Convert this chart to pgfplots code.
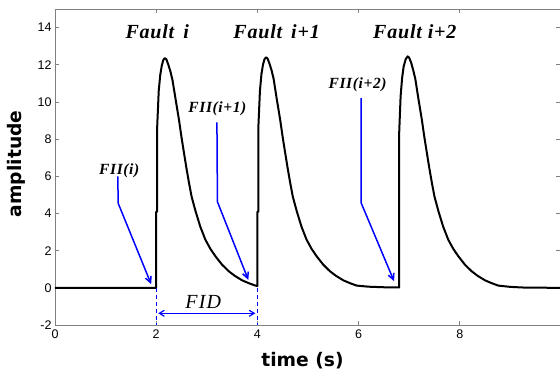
\documentclass[border=0pt]{standalone}
\usepackage{fontspec}
\setmainfont{Liberation Serif}
\setsansfont{Liberation Sans}
\newfontfamily\spacedserif{Liberation Serif}[LetterSpace=4]
\newfontfamily\widespaced{Liberation Serif}[LetterSpace=6]
\newfontfamily\labelfont{DejaVu Sans}
\usepackage{pgfplots}
\pgfplotsset{compat=1.18}
\usetikzlibrary{arrows.meta}
\definecolor{axgray}{RGB}{128,128,128}
\begin{document}
\begin{tikzpicture}
\begin{axis}[
  scale only axis,
  width=505pt, height=316pt,
  xmin=0, xmax=9.98, ymin=-2, ymax=15,
  xtick={0,2,4,6,8}, ytick={-2,0,2,4,6,8,10,12,14},
  tick align=inside,
  major tick length=4pt,
  axis line style={draw=axgray, line width=0.9pt},
  every tick/.style={draw=axgray, line width=0.7pt},
  /pgf/number format/assume math mode=true,
  ticklabel style={font=\sffamily\fontsize{12.5}{12.5}\selectfont, text=black},
  xticklabel style={yshift=-1pt},
  yticklabel style={xshift=0pt},
  xlabel={time (s)}, ylabel={amplitude},
  label style={font=\labelfont\bfseries\fontsize{18.7}{18.7}\selectfont},
  xlabel style={at={(axis description cs:0.49,-0.114)}, anchor=center},
  ylabel style={at={(axis description cs:-0.077,0.51)}, anchor=center},
  clip=false,
]
\coordinate (SW) at (rel axis cs:0,0);
\coordinate (NE) at (rel axis cs:1,1);
% signal
\addplot[black, line width=2pt, line join=round] coordinates {
(0,0)(2.0,0)(2.0,4.1)(2.02,4.1)(2.02,8.7)(2.05,10.6)(2.08,11.45)(2.11,11.95)(2.14,12.25)(2.17,12.36)(2.20,12.3)(2.24,12.0)(2.28,11.65)(2.32,11.2)(2.38,10.2)(2.45,9.04)(2.50,8.1)(2.55,7.24)(2.60,6.4)(2.65,5.62)(2.70,4.9)(2.78,4.1)(2.87,3.3)(2.97,2.6)(3.07,2.1)(3.17,1.7)(3.30,1.25)(3.43,0.9)(3.55,0.65)(3.70,0.4)(3.83,0.25)(3.96,0.12)(4.0,0.1)
(4.0,4.1)(4.02,4.1)(4.02,8.7)(4.05,10.6)(4.08,11.5)(4.11,12.0)(4.14,12.3)(4.17,12.4)(4.20,12.34)(4.24,12.05)(4.28,11.7)(4.32,11.25)(4.38,10.2)(4.45,9.04)(4.50,8.1)(4.55,7.24)(4.60,6.4)(4.65,5.62)(4.70,4.9)(4.78,4.1)(4.87,3.3)(4.97,2.6)(5.07,2.1)(5.17,1.7)(5.30,1.25)(5.43,0.9)(5.55,0.65)(5.70,0.4)(5.83,0.25)(5.96,0.12)(6.2,0.06)(6.5,0.03)(6.8,0.02)
(6.8,8.2)(6.83,10.3)(6.86,11.3)(6.89,11.9)(6.93,12.3)(6.97,12.45)(7.00,12.38)(7.04,12.1)(7.08,11.7)(7.12,11.25)(7.18,10.2)(7.25,9.04)(7.30,8.1)(7.35,7.24)(7.40,6.4)(7.45,5.62)(7.50,4.9)(7.58,4.1)(7.67,3.3)(7.77,2.6)(7.87,2.1)(7.97,1.7)(8.10,1.25)(8.23,0.9)(8.35,0.65)(8.50,0.4)(8.63,0.25)(8.76,0.12)(9.0,0.05)(9.3,0.01)(9.98,0)
};
% pointer arrows
\addplot[blue, line width=1.5pt, -{Straight Barb[length=6pt,width=6pt]}] coordinates {(1.24,6.0)(1.25,4.54)(1.90,0.2)};
\addplot[blue, line width=1.5pt, -{Straight Barb[length=6pt,width=6pt]}] coordinates {(3.20,8.9)(3.21,4.63)(3.82,0.43)};
\addplot[blue, line width=1.5pt, -{Straight Barb[length=6pt,width=6pt]}] coordinates {(6.05,10.2)(6.05,4.57)(6.70,0.36)};
% FID markers
\addplot[blue, line width=1pt, dash pattern=on 4pt off 3pt] coordinates {(2,0)(2,-2)};
\addplot[blue, line width=1pt, dash pattern=on 4pt off 3pt] coordinates {(4,0)(4,-2)};
\addplot[blue, line width=1.2pt, {Straight Barb[length=5pt,width=6pt]}-{Straight Barb[length=5pt,width=6pt]}] coordinates {(2.04,-1.37)(3.96,-1.37)};
% texts
\node[font=\spacedserif\bfseries\itshape\fontsize{20}{20}\selectfont] at (axis cs:2.02,13.79) {Fault\hspace{0.45em}i};
\node[font=\spacedserif\bfseries\itshape\fontsize{20}{20}\selectfont] at (axis cs:4.38,13.79) {Fault\hspace{0.45em}i+1};
\node[font=\spacedserif\bfseries\itshape\fontsize{20}{20}\selectfont] at (axis cs:7.11,13.79) {Fault i+2};
\node[font=\spacedserif\bfseries\itshape\fontsize{15.5}{15.5}\selectfont] at (axis cs:1.27,6.31) {FII(i)};
\node[font=\spacedserif\bfseries\itshape\fontsize{15.5}{15.5}\selectfont] at (axis cs:3.21,9.62) {FII(i+1)};
\node[font=\spacedserif\bfseries\itshape\fontsize{15.5}{15.5}\selectfont] at (axis cs:5.98,10.94) {FII(i+2)};
\node[font=\widespaced\itshape\fontsize{20}{20}\selectfont] at (axis cs:2.93,-0.74) {FID};
\end{axis}
\pgfresetboundingbox
\path ([xshift=-55pt,yshift=-52pt]SW) rectangle ([yshift=9pt]NE);
\end{tikzpicture}
\end{document}
